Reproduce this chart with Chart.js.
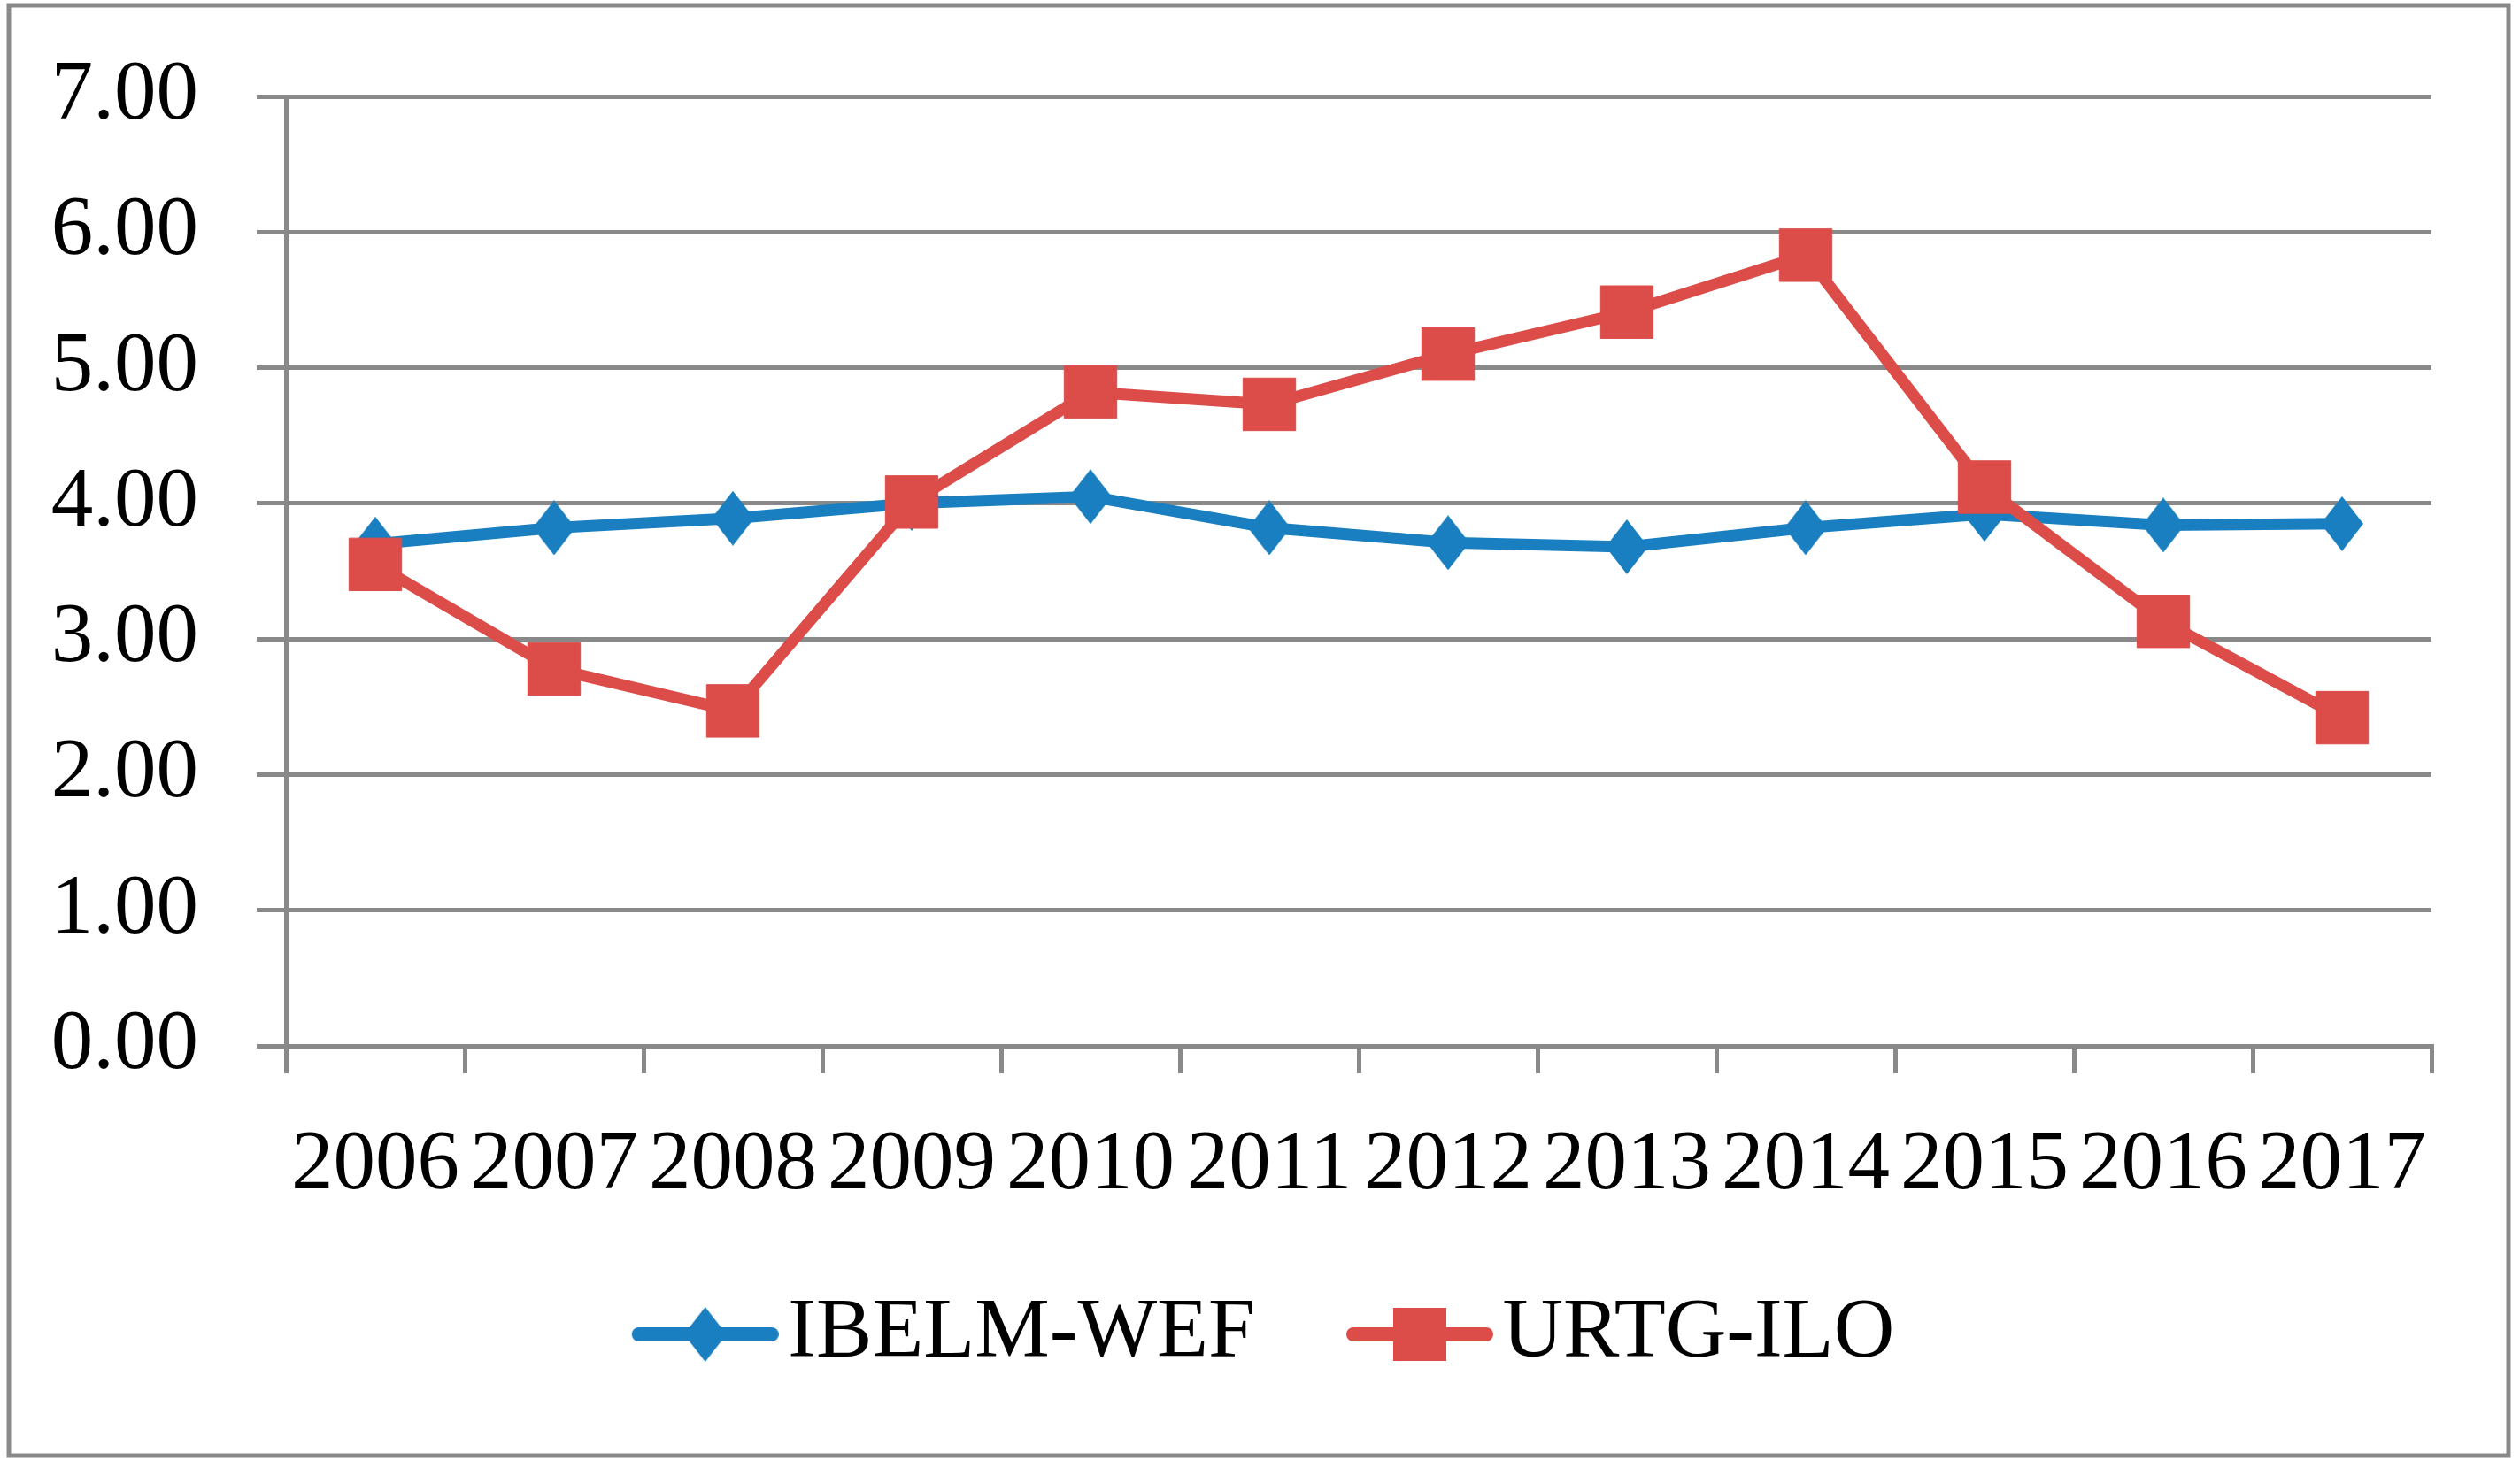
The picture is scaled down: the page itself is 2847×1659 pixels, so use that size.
<!DOCTYPE html>
<html>
<head>
<meta charset="utf-8">
<script src="https://cdn.jsdelivr.net/npm/chart.js@4/dist/chart.umd.min.js"></script>
<style>
  html, body { margin: 0; padding: 0; background: #fff; }
  #wrap { width: 2847px; height: 1659px; }
</style>
</head>
<body>
<div id="wrap"><canvas id="graph"></canvas></div>
<script>
const years = ["2006", "2007", "2008", "2009", "2010", "2011", "2012", "2013", "2014", "2015", "2016", "2017"];
const ibelmWef = [3.70, 3.82, 3.89, 4.00, 4.05, 3.82, 3.71, 3.68, 3.82, 3.92, 3.84, 3.85];
const urtgIlo = [3.55, 2.78, 2.47, 4.01, 4.82, 4.73, 5.10, 5.41, 5.83, 4.12, 3.13, 2.42];
const yTicks = [0, 1, 2, 3, 4, 5, 6, 7];

const blue = "#1a7fc0";
const red = "#dc4d4a";
const grey = "#898989";
const font = "Liberation Serif";

// tall diamond marker like the Excel one
function diamond(w, h, color) {
  const c = document.createElement("canvas");
  c.width = w; c.height = h;
  const x = c.getContext("2d");
  x.fillStyle = color;
  x.beginPath();
  x.moveTo(w / 2, 0);
  x.lineTo(w, h / 2);
  x.lineTo(w / 2, h);
  x.lineTo(0, h / 2);
  x.closePath();
  x.fill();
  return c;
}

// legend icon: line with marker in the middle, blank on the left for spacing
function legendIcon(color, marker) {
  const c = document.createElement("canvas");
  c.width = 296; c.height = 64;
  const x = c.getContext("2d");
  const x0 = 296 - 166;
  x.strokeStyle = color;
  x.lineWidth = 16;
  x.lineCap = "round";
  x.beginPath();
  x.moveTo(x0 + 8, 32);
  x.lineTo(296 - 8, 32);
  x.stroke();
  const cx = (x0 + 296) / 2;
  x.fillStyle = color;
  if (marker === "diamond") {
    x.drawImage(diamond(48, 62, color), cx - 24, 1);
  } else {
    x.fillRect(cx - 30, 2, 60, 60);
  }
  return c;
}

const blueDiamond = diamond(48, 62, blue);
const icons = [legendIcon(blue, "diamond"), legendIcon(red, "square")];

const frame = {
  id: "frame",
  beforeDraw(chart) {
    const ctx = chart.ctx;
    ctx.save();
    ctx.fillStyle = "#fff";
    ctx.fillRect(0, 0, chart.width, chart.height);
    ctx.strokeStyle = grey;
    ctx.lineWidth = 5;
    ctx.strokeRect(10, 6, 2824, 1639);
    ctx.restore();
  }
};

const graph = document.getElementById("graph").getContext("2d");

let myChart = new Chart(graph, {
  type: "line",
  data: {
    labels: years,
    datasets: [
      {
        label: "IBELM-WEF",
        data: ibelmWef,
        borderColor: blue,
        backgroundColor: blue,
        borderWidth: 13,
        pointStyle: blueDiamond,
        pointRadius: 30,
        tension: 0,
        order: 1,
      },
      {
        label: "URTG-ILO",
        data: urtgIlo,
        borderColor: red,
        backgroundColor: red,
        borderWidth: 13,
        pointStyle: "rect",
        pointRadius: 42,
        pointBorderWidth: 1,
        pointBorderColor: red,
        pointBackgroundColor: red,
        tension: 0,
        order: 0,
      },
    ],
  },
  options: {
    responsive: true,
    maintainAspectRatio: false,
    animation: false,
    layout: {
      padding: { left: 14, right: 100, top: 109, bottom: 93.5 },
    },
    plugins: {
      title: { display: false },
      tooltip: { enabled: false },
      legend: {
        position: "bottom",
        labels: {
          usePointStyle: true,
          pointStyleWidth: 222,
          padding: 10,
          color: "#000",
          font: { family: font, size: 95 },
          generateLabels(chart) {
            return chart.data.datasets.map((ds, i) => ({
              text: ds.label,
              pointStyle: icons[i],
              fillStyle: ds.borderColor,
              strokeStyle: ds.borderColor,
              lineWidth: 0,
              hidden: false,
              datasetIndex: i,
            }));
          },
        },
      },
    },
    scales: {
      x: {
        offset: true,
        afterFit(scale) { scale.height = 268.5; },
        grid: {
          offset: true,
          drawOnChartArea: false,
          drawTicks: true,
          tickLength: 31,
          color: grey,
          lineWidth: 5,
        },
        border: { display: true, color: grey, width: 5 },
        ticks: {
          color: "#000",
          padding: 48,
          maxRotation: 0,
          autoSkip: false,
          font: { family: font, size: 95 },
        },
      },
      y: {
        min: 0,
        max: 7,
        afterFit(scale) {
          scale.width = 309;
          scale.paddingTop = 0;
          scale.paddingBottom = 0;
        },
        afterBuildTicks(scale) { scale.ticks = yTicks.map(v => ({ value: v })); },
        grid: {
          color: grey,
          lineWidth: 5,
          tickLength: 33,
        },
        border: { display: true, color: grey, width: 5 },
        ticks: {
          color: "#000",
          padding: 66,
          font: { family: font, size: 95 },
          callback: (v) => Number(v).toFixed(2),
        },
      },
    },
  },
  plugins: [frame],
});
</script>
</body>
</html>
